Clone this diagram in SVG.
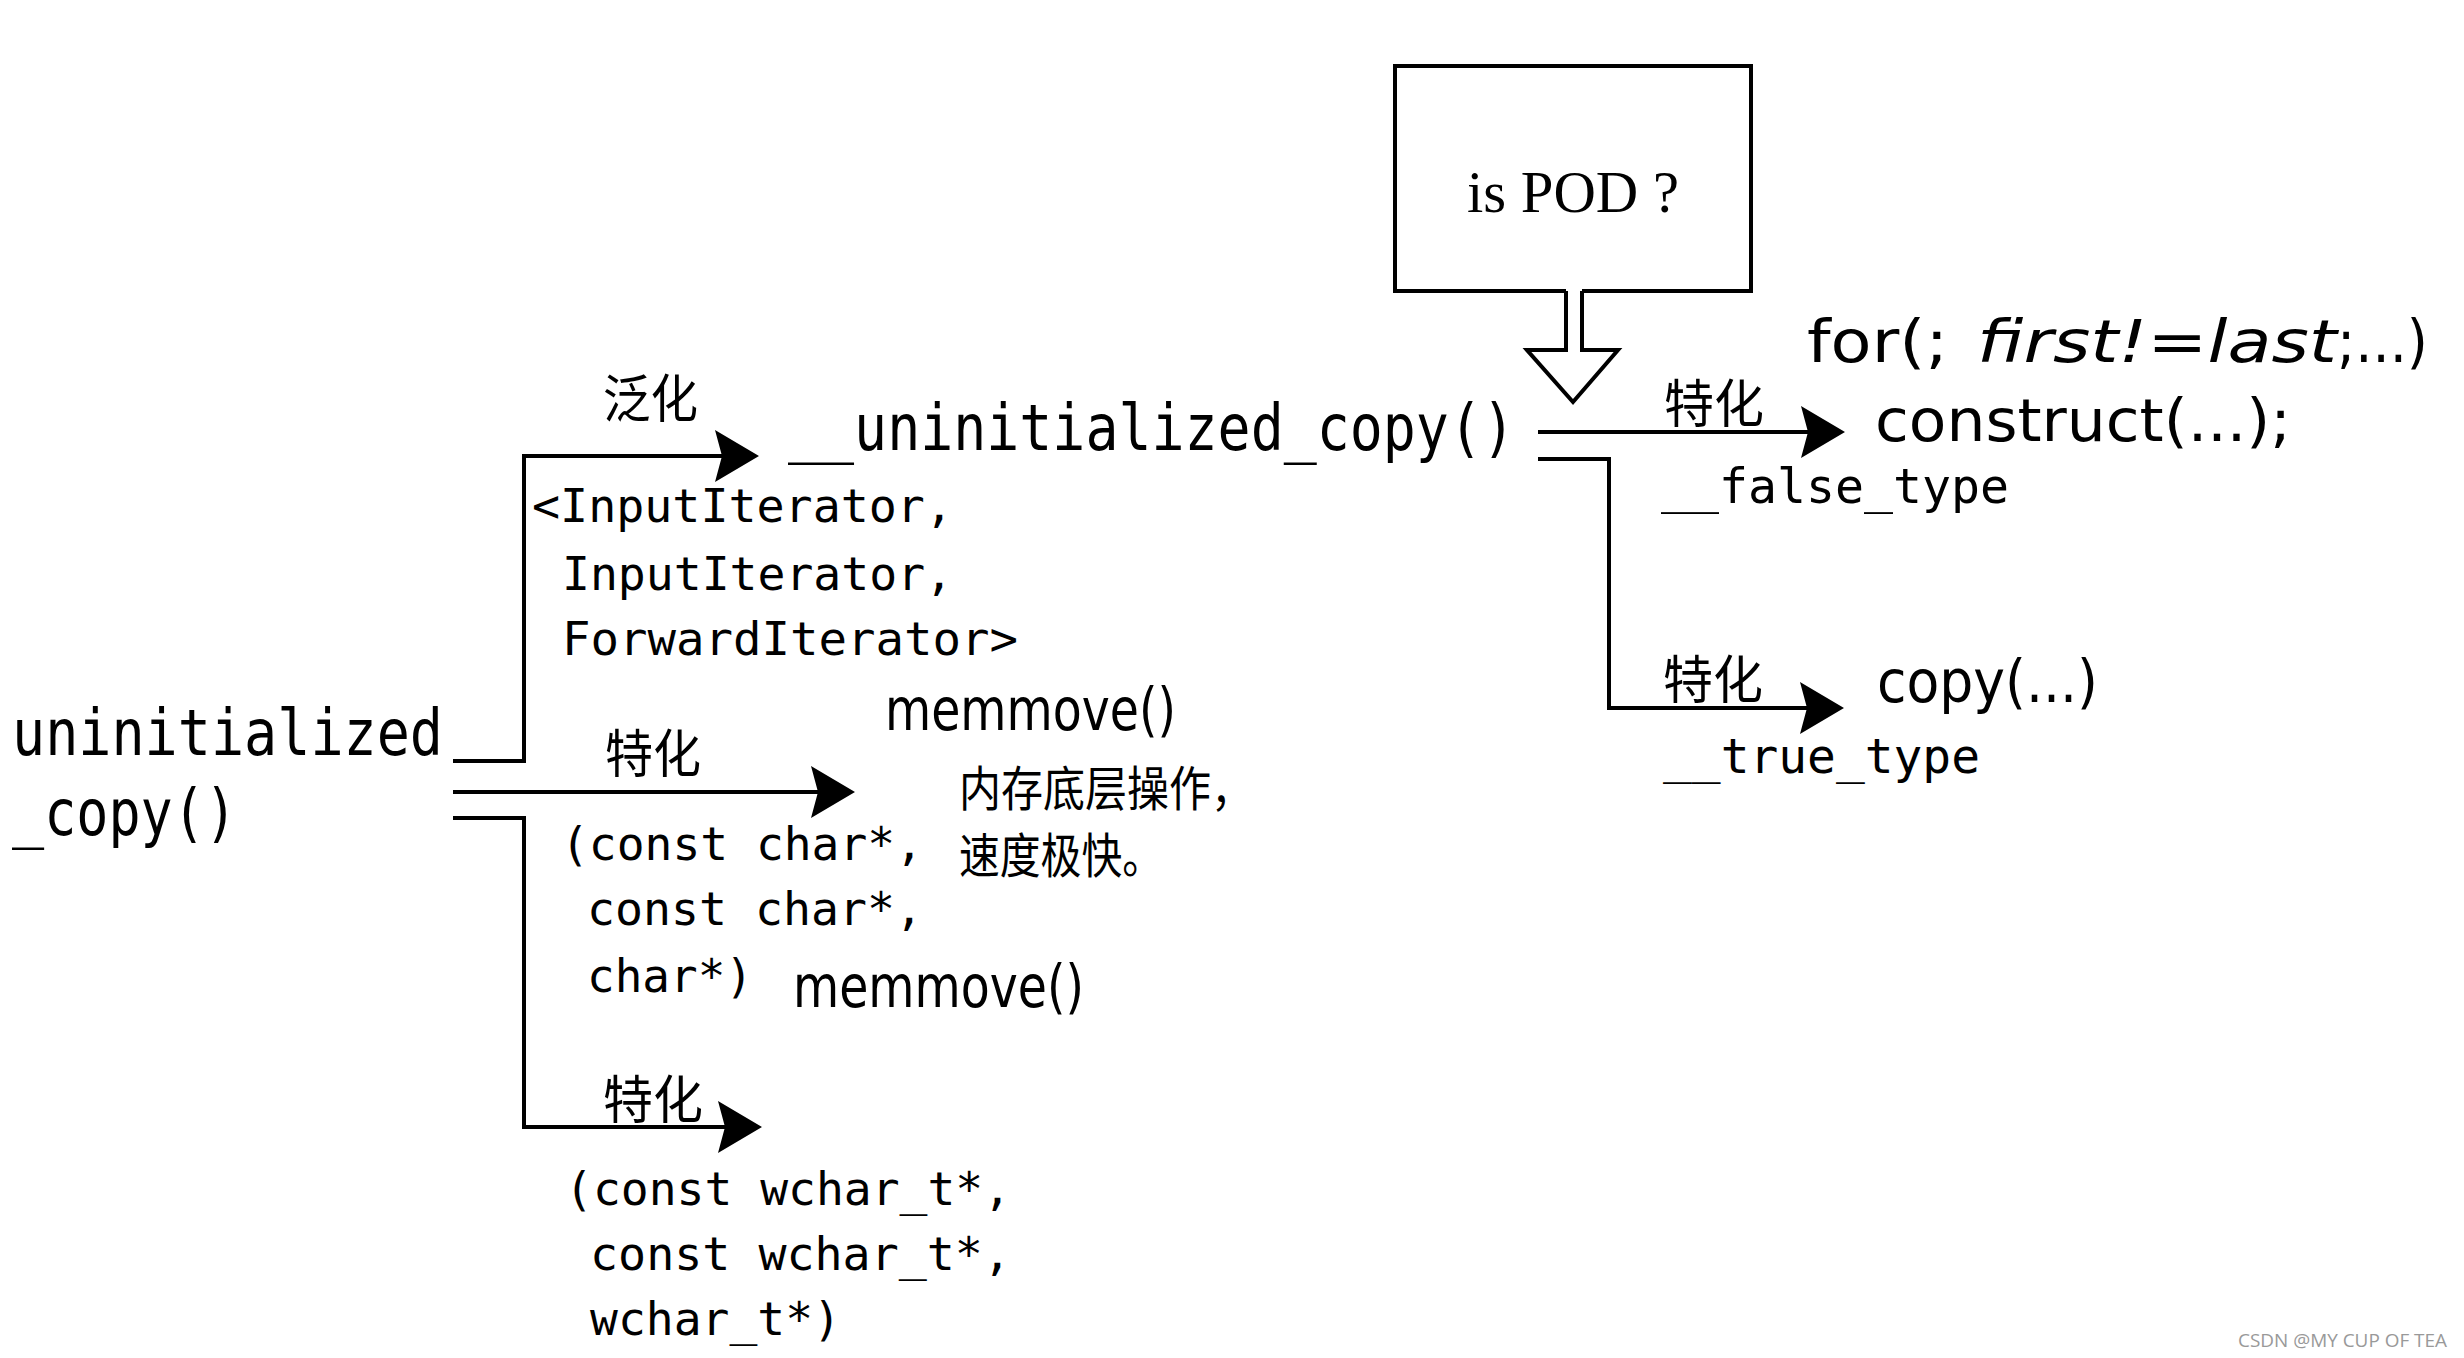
<svg xmlns="http://www.w3.org/2000/svg" width="2464" height="1358" viewBox="0 0 2464 1358">
<style>
.code{font-family:"DejaVu Sans Mono","Liberation Mono",monospace;fill:#000}
.sans{font-family:"DejaVu Sans","Liberation Sans",sans-serif;fill:#000}
.cjk{font-family:"Noto Sans CJK SC","Noto Sans",sans-serif;fill:#000}
.serif{font-family:"Liberation Serif","DejaVu Serif",serif;fill:#000}
.line{fill:none;stroke:#000;stroke-width:4}
.big{font-size:64px}
.small{font-size:46px}
.mid{font-size:58px}
.lbl{font-size:52px}
</style>
<defs>
<marker id="arr" viewBox="0 0 44 52" refX="36" refY="26" markerWidth="44" markerHeight="52" markerUnits="userSpaceOnUse" orient="auto">
<path d="M0,0 L44,26 L0,52 L7,26 Z" fill="#000"/>
</marker>
</defs>
<rect width="2464" height="1358" fill="#fff"/>

<g id="connectors">
<path class="line" d="M453,761 H524 V456 H751" marker-end="url(#arr)"/>
<path class="line" d="M453,792 H847" marker-end="url(#arr)"/>
<path class="line" d="M453,818 H524 V1127 H754" marker-end="url(#arr)"/>
<path class="line" d="M1538,432 H1837" marker-end="url(#arr)"/>
<path class="line" d="M1538,459 H1609 V708 H1836" marker-end="url(#arr)"/>
<path class="line" d="M1566,291 V350 H1527 L1573,402 L1618,350 H1582 V291" fill="#fff"/>
</g>

<g id="node-uninitialized-copy">
<text class="code big" x="12" y="755" textLength="431" lengthAdjust="spacingAndGlyphs">uninitialized</text>
<text class="code big" x="12" y="835" textLength="225" lengthAdjust="spacingAndGlyphs">_copy()</text>
</g>

<g id="label-generic">
<text class="cjk lbl" x="603" y="418" textLength="95" lengthAdjust="spacingAndGlyphs">泛化</text>
<text class="code small" x="532" y="522" textLength="421" lengthAdjust="spacingAndGlyphs">&lt;InputIterator,</text>
<text class="code small" x="562" y="590" textLength="391" lengthAdjust="spacingAndGlyphs">InputIterator,</text>
<text class="code small" x="562" y="655" textLength="456" lengthAdjust="spacingAndGlyphs">ForwardIterator&gt;</text>
</g>

<g id="node-inner-uninitialized-copy">
<text class="code big" x="788" y="450" textLength="727" lengthAdjust="spacingAndGlyphs">__uninitialized_copy()</text>
</g>

<g id="label-char">
<text class="cjk lbl" x="605" y="773" textLength="96" lengthAdjust="spacingAndGlyphs">特化</text>
<text class="code small" x="561" y="860" textLength="362" lengthAdjust="spacingAndGlyphs">(const char*,</text>
<text class="code small" x="587" y="925" textLength="336" lengthAdjust="spacingAndGlyphs">const char*,</text>
<text class="code small" x="587" y="992" textLength="166" lengthAdjust="spacingAndGlyphs">char*)</text>
</g>

<g id="node-memmove-char">
<text class="sans mid" x="885" y="730" textLength="291" lengthAdjust="spacingAndGlyphs">memmove()</text>
<text class="cjk" font-size="48" x="959" y="806" textLength="294" lengthAdjust="spacingAndGlyphs">内存底层操作，</text>
<text class="cjk" font-size="48" x="959" y="873" textLength="204" lengthAdjust="spacingAndGlyphs">速度极快。</text>
</g>

<g id="node-memmove-wchar">
<text class="sans mid" x="793" y="1007" textLength="291" lengthAdjust="spacingAndGlyphs">memmove()</text>
</g>

<g id="label-wchar">
<text class="cjk lbl" x="603" y="1119" textLength="100" lengthAdjust="spacingAndGlyphs">特化</text>
<text class="code small" x="565" y="1205" textLength="446" lengthAdjust="spacingAndGlyphs">(const wchar_t*,</text>
<text class="code small" x="590" y="1270" textLength="421" lengthAdjust="spacingAndGlyphs">const wchar_t*,</text>
<text class="code small" x="590" y="1335" textLength="251" lengthAdjust="spacingAndGlyphs">wchar_t*)</text>
</g>

<g id="node-is-pod">
<path class="line" d="M1566,291 H1395 V66 H1751 V291 H1582"/>
<text class="serif" font-size="60" x="1467" y="212" textLength="212" lengthAdjust="spacingAndGlyphs">is POD ?</text>
</g>

<g id="label-false">
<text class="cjk lbl" x="1664" y="423" textLength="100" lengthAdjust="spacingAndGlyphs">特化</text>
<text class="code" font-size="48" x="1661" y="503" textLength="348" lengthAdjust="spacingAndGlyphs">__false_type</text>
</g>

<g id="node-construct">
<text class="sans mid" y="362"><tspan x="1807" textLength="141" lengthAdjust="spacingAndGlyphs">for(;</tspan><tspan x="1977" font-style="italic" textLength="360" lengthAdjust="spacingAndGlyphs">first!=last</tspan><tspan x="2337" textLength="91" lengthAdjust="spacingAndGlyphs">;...)</tspan></text>
<text class="sans mid" x="1875" y="441" textLength="416" lengthAdjust="spacingAndGlyphs">construct(...);</text>
</g>

<g id="label-true">
<text class="cjk lbl" x="1663" y="699" textLength="100" lengthAdjust="spacingAndGlyphs">特化</text>
<text class="code" font-size="48" x="1663" y="773" textLength="317" lengthAdjust="spacingAndGlyphs">__true_type</text>
</g>

<g id="node-copy">
<text class="sans mid" x="1877" y="702" textLength="221" lengthAdjust="spacingAndGlyphs">copy(...)</text>
</g>

<text font-family="'Open Sans','Liberation Sans',sans-serif" font-size="19" fill="#999" x="2238" y="1347" textLength="209" lengthAdjust="spacingAndGlyphs">CSDN @MY CUP OF TEA</text>
</svg>
